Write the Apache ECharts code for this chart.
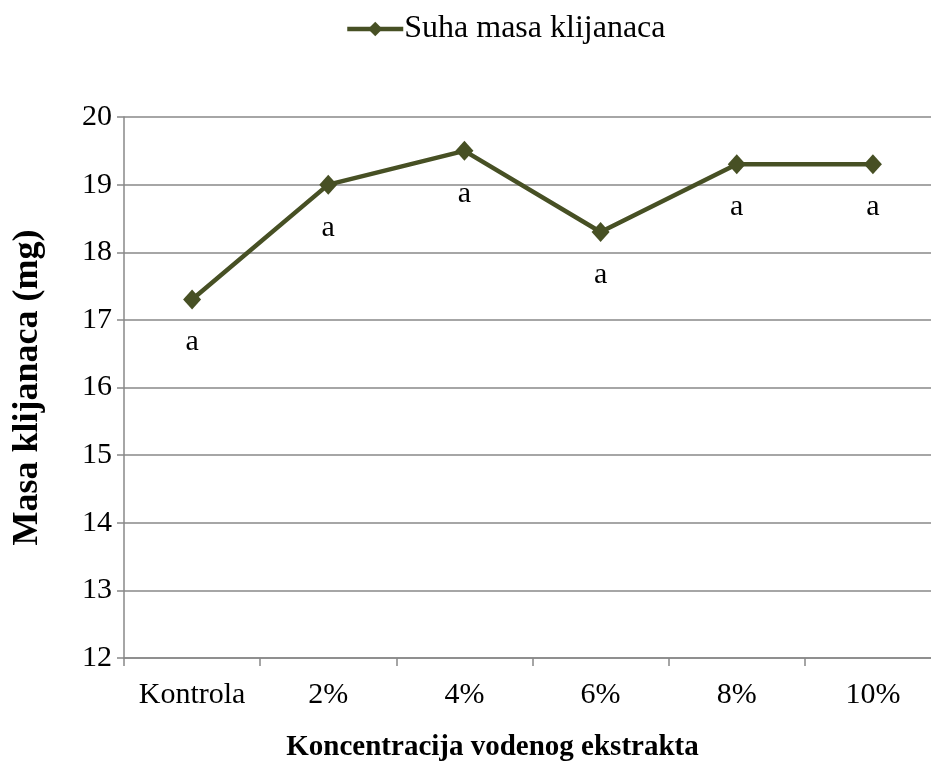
<!DOCTYPE html>
<html><head><meta charset="utf-8">
<script src="https://cdn.jsdelivr.net/npm/echarts@6/dist/echarts.min.js"></script>
<style>html,body{margin:0;padding:0;background:#fff}#c{width:931px;height:781px}</style>
</head><body><div id="c"></div>
<script>
const categories = ['Kontrola', '2%', '4%', '6%', '8%', '10%'];
const values = [17.3, 19.0, 19.5, 18.3, 19.3, 19.3];
const pointLabels = ['a', 'a', 'a', 'a', 'a', 'a'];
const seriesName = 'Suha masa klijanaca';
const font = '"Liberation Serif", "Times New Roman", serif';
const chart = echarts.init(document.getElementById('c'));
chart.setOption({
  animation: false,
  textStyle: { fontFamily: font },
  legend: {
    top: 8, left: 340,
    data: [seriesName],
    itemWidth: 56, itemHeight: 18, itemGap: 0,
    lineStyle: { width: 4.5 },
    textStyle: { fontFamily: font, fontSize: 32, color: '#000', padding: [0,0,0,-4] }
  },
  grid: { left: 124, width: 817, top: 117, bottom: 123, containLabel: false, outerBoundsMode: 'none' },
  xAxis: {
    type: 'category', data: categories, boundaryGap: true,
    axisLine: { lineStyle: { color: '#888', width: 1.5 } },
    axisTick: { show: true, interval: 0, alignWithLabel: false, length: 8, lineStyle: { color: '#888', width: 1.5 } },
    axisLabel: { interval: 0, hideOverlap: false, fontFamily: font, fontSize: 30, color: '#000', margin: 22 },
    name: 'Koncentracija vodenog ekstrakta', nameLocation: 'middle', nameGap: 75,
    nameTextStyle: { fontFamily: font, fontSize: 29, fontWeight: 'bold', color: '#000', padding: [0, 0, 0, -80] }
  },
  yAxis: {
    type: 'value', min: 12, max: 20, interval: 1,
    axisLine: { show: true, lineStyle: { color: '#888', width: 1.5 } },
    axisTick: { show: true, length: 7, lineStyle: { color: '#888', width: 1.5 } },
    splitLine: { lineStyle: { color: '#888', width: 1.5 } },
    axisLabel: { fontFamily: font, fontSize: 30, color: '#000', margin: 12 },
    name: 'Masa klijanaca (mg)', nameLocation: 'middle', nameGap: 78, nameRotate: 90,
    nameTextStyle: { fontFamily: font, fontSize: 36, fontWeight: 'bold', color: '#000' }
  },
  series: [{
    name: seriesName, type: 'line', data: values,
    symbol: 'diamond', symbolSize: [18, 20],
    lineStyle: { color: '#475024', width: 4.5 },
    itemStyle: { color: '#475024' },
    label: {
      show: true, position: 'bottom', distance: 18,
      formatter: p => pointLabels[p.dataIndex],
      fontFamily: font, fontSize: 30, color: '#000'
    }
  }]
});
</script></body></html>
